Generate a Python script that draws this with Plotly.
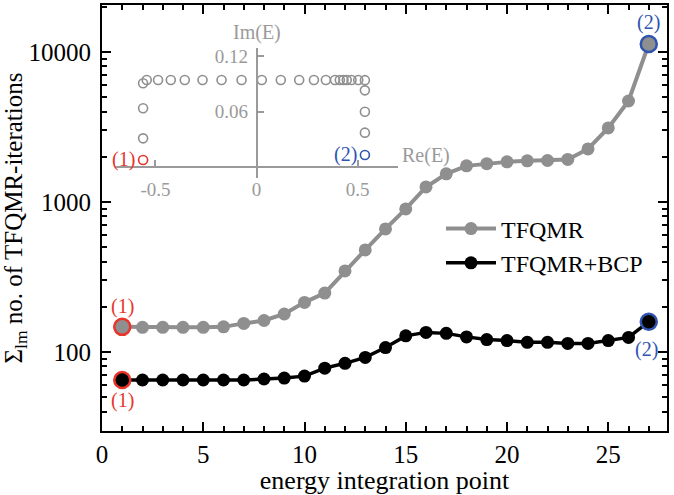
import math
import plotly.graph_objects as go

# ---------------- data ----------------
points = list(range(1, 28))
tfqmr = [147, 146, 146, 146, 146, 147, 155, 162, 179, 214, 247, 347, 479, 661, 898,
         1259, 1540, 1740, 1800, 1850, 1880, 1890, 1920, 2256, 3115, 4710, 11300]
tfqmr_bcp = [65, 65, 65, 65, 65, 65, 65, 66, 67, 69, 78, 84, 92, 107, 128,
             135, 133, 126, 121, 119, 116, 116, 114, 114, 119, 125, 159]

re_e = [-0.561, -0.561, -0.561, -0.561, -0.543, -0.487, -0.424, -0.355, -0.267,
        -0.173, -0.074, 0.026, 0.120, 0.211, 0.284, 0.343, 0.388, 0.412, 0.430,
        0.446, 0.470, 0.503, 0.536, 0.536, 0.536, 0.536, 0.536]
im_e = [0.008, 0.0313, 0.0637, 0.0906, 0.0941, 0.0941, 0.0941, 0.0941, 0.0941,
        0.0941, 0.0941, 0.0941, 0.0941, 0.0941, 0.0941, 0.0941, 0.0941, 0.0941,
        0.0941, 0.0941, 0.0941, 0.0941, 0.094, 0.083, 0.060, 0.0374, 0.0134]

x_ticks = [0, 5, 10, 15, 20, 25]
y_ticks = [100, 1000, 10000]
y_tick_labels = ["100", "1000", "10000"]
inset_x_ticks = [-0.5, 0, 0.5]
inset_x_labels = ["-0.5", "0", "0.5"]
inset_y_ticks = [0.06, 0.12]
inset_y_labels = ["0.06", "0.12"]

GRAY = "#8f8f8f"
IGRAY = "#9a9a9a"
RED = "#e8352c"
BLUE = "#2f55b0"
FONT = "Liberation Serif, Times New Roman, Times, serif"

fig = go.Figure()

# main series
fig.add_trace(go.Scatter(
    x=points, y=tfqmr, mode="lines+markers", name="TFQMR",
    line=dict(color=GRAY, width=4),
    marker=dict(color=GRAY, size=13),
))
fig.add_trace(go.Scatter(
    x=points, y=tfqmr_bcp, mode="lines+markers", name="TFQMR+BCP",
    line=dict(color="black", width=3.5),
    marker=dict(color="black", size=13),
))
# highlighted endpoints
fig.add_trace(go.Scatter(
    x=[points[0]], y=[tfqmr[0]], mode="markers", showlegend=False,
    marker=dict(color=GRAY, size=16, line=dict(color=RED, width=2.5))))
fig.add_trace(go.Scatter(
    x=[points[0]], y=[tfqmr_bcp[0]], mode="markers", showlegend=False,
    marker=dict(color="black", size=16, line=dict(color=RED, width=2.5))))
fig.add_trace(go.Scatter(
    x=[points[-1]], y=[tfqmr[-1]], mode="markers", showlegend=False,
    marker=dict(color=GRAY, size=16, line=dict(color=BLUE, width=2.5))))
fig.add_trace(go.Scatter(
    x=[points[-1]], y=[tfqmr_bcp[-1]], mode="markers", showlegend=False,
    marker=dict(color="black", size=16, line=dict(color=BLUE, width=2.5))))

# inset
fig.add_trace(go.Scatter(
    x=re_e[1:-1], y=im_e[1:-1], mode="markers", showlegend=False,
    xaxis="x2", yaxis="y2",
    marker=dict(symbol="circle-open", color=GRAY, size=9, line=dict(width=1.6))))
fig.add_trace(go.Scatter(
    x=[re_e[0]], y=[im_e[0]], mode="markers", showlegend=False,
    xaxis="x2", yaxis="y2",
    marker=dict(symbol="circle-open", color=RED, size=9, line=dict(width=1.6))))
fig.add_trace(go.Scatter(
    x=[re_e[-1]], y=[im_e[-1]], mode="markers", showlegend=False,
    xaxis="x2", yaxis="y2",
    marker=dict(symbol="circle-open", color=BLUE, size=9, line=dict(width=1.6))))

minor_y = [m * 10 ** k for k in (1, 2, 3, 4) for m in range(2, 10)]

fig.update_layout(
    width=674, height=495,
    margin=dict(l=102, r=7, t=5, b=64),
    paper_bgcolor="white", plot_bgcolor="white",
    font=dict(family=FONT, size=24, color="black"),
    showlegend=True,
    legend=dict(x=0.60, y=0.527, xanchor="left", yanchor="top",
                bgcolor="rgba(0,0,0,0)", font=dict(size=24, family=FONT),
                itemwidth=50, tracegroupgap=0),
    xaxis=dict(
        range=[0, 27.9], showgrid=False, zeroline=False, automargin=False,
        showline=True, linecolor="black", linewidth=2, mirror="ticks",
        ticks="inside", ticklen=9, tickwidth=1.5, tickcolor="black",
        tickvals=x_ticks, ticktext=[str(v) for v in x_ticks],
        minor=dict(ticks="inside", ticklen=5, tickwidth=1.5, tickcolor="black", dtick=1, tick0=0),
        title=dict(text="energy integration point", font=dict(size=26, family=FONT), standoff=0),
        tickfont=dict(size=25, family=FONT),
    ),
    yaxis=dict(
        type="log", range=[1.473, 4.313], showgrid=False, zeroline=False, automargin=False,
        showline=True, linecolor="black", linewidth=2, mirror="ticks",
        ticks="inside", ticklen=9, tickwidth=1.5, tickcolor="black",
        tickvals=y_ticks, ticktext=y_tick_labels,
        minor=dict(ticks="inside", ticklen=5, tickwidth=1.5, tickcolor="black",
                   tickmode="array", tickvals=minor_y),
        title=dict(text="\u03a3<sub>lm</sub> no. of TFQMR-iterations",
                   font=dict(size=25, family=FONT), standoff=0),
        tickfont=dict(size=25, family=FONT),
        ticklabelstandoff=4,
    ),
    xaxis2=dict(
        domain=[0.023, 0.524], range=[-0.70, 0.70], anchor="free", position=0.619,
        showgrid=False, zeroline=False, showline=True, linecolor=IGRAY, linewidth=2,
        ticks="inside", ticklen=6, tickwidth=2, tickcolor=IGRAY, automargin=False,
        tickvals=inset_x_ticks, ticktext=inset_x_labels, ticklabelstandoff=5,
        tickfont=dict(size=19, color=IGRAY, family=FONT),
    ),
    yaxis2=dict(
        domain=[0.594, 0.899], range=[-0.0114, 0.1286], anchor="free", position=0.274,
        showgrid=False, zeroline=False, showline=True, linecolor=IGRAY, linewidth=2,
        ticks="inside", ticklen=6, tickwidth=2, tickcolor=IGRAY, automargin=False,
        tickvals=inset_y_ticks, ticktext=inset_y_labels,
        tickfont=dict(size=19, color=IGRAY, family=FONT),
        ticklabelstandoff=4,
    ),
)

ann = []
# main labels
ann.append(dict(x=points[0], y=math.log10(tfqmr[0]), xref="x", yref="y", text="(1)",
                showarrow=False, yshift=20, font=dict(color=RED, size=20, family=FONT)))
ann.append(dict(x=points[0], y=math.log10(tfqmr_bcp[0]), xref="x", yref="y", text="(1)",
                showarrow=False, yshift=-20, font=dict(color=RED, size=20, family=FONT)))
ann.append(dict(x=points[-1], y=math.log10(tfqmr[-1]), xref="x", yref="y", text="(2)",
                showarrow=False, yshift=21, font=dict(color=BLUE, size=20, family=FONT)))
ann.append(dict(x=points[-1], y=math.log10(tfqmr_bcp[-1]), xref="x", yref="y", text="(2)",
                showarrow=False, yshift=-28, xshift=-2, font=dict(color=BLUE, size=20, family=FONT)))
# inset labels
ann.append(dict(x=re_e[0], y=im_e[0], xref="x2", yref="y2", text="(1)",
                showarrow=False, xanchor="right", xshift=-6, font=dict(color=RED, size=20, family=FONT)))
ann.append(dict(x=re_e[-1], y=im_e[-1], xref="x2", yref="y2", text="(2)",
                showarrow=False, xanchor="right", xshift=-6, font=dict(color=BLUE, size=20, family=FONT)))
ann.append(dict(x=0, y=0.1286, xref="x2", yref="y2", text="Im(E)", yanchor="bottom",
                showarrow=False, yshift=2, font=dict(color=IGRAY, size=20, family=FONT)))
ann.append(dict(x=0.70, y=0.0, xref="x2", yref="y2", text="Re(E)", xanchor="left",
                yanchor="bottom", showarrow=False, xshift=2, yshift=-2,
                font=dict(color=IGRAY, size=20, family=FONT)))
fig.update_layout(annotations=ann)

fig.write_html("out.html", config={"displayModeBar": False},
               post_script="document.body.style.margin='0';document.body.style.padding='0';")
